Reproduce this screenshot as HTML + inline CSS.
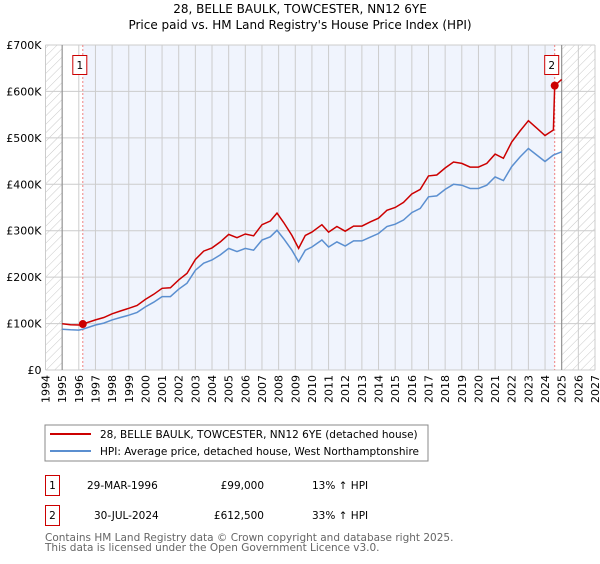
<!DOCTYPE html>
<html><head><meta charset="utf-8"><style>
body{margin:0;background:#fff;font-family:"DejaVu Sans","Liberation Sans",sans-serif;}
svg text{font-family:"DejaVu Sans","Liberation Sans",sans-serif;}
</style></head><body>
<svg id="c" width="600" height="560" viewBox="0 0 600 560">
<defs><pattern id="hatch" width="6" height="6" patternUnits="userSpaceOnUse" patternTransform="rotate(45)"><line x1="0" y1="0" x2="0" y2="6" stroke="#bbb" stroke-width="0.8"/></pattern></defs>
<text x="300" y="13" text-anchor="middle" font-size="12">28, BELLE BAULK, TOWCESTER, NN12 6YE</text>
<text x="300" y="29" text-anchor="middle" font-size="12">Price paid vs. HM Land Registry's House Price Index (HPI)</text>
<g id="plot"></g>
<rect x="45" y="425" width="383" height="36" fill="#fff" stroke="#888"/>
<line x1="50" y1="434" x2="91" y2="434" stroke="#cc0000" stroke-width="2"/>
<text x="100" y="438" font-size="10.5">28, BELLE BAULK, TOWCESTER, NN12 6YE (detached house)</text>
<line x1="50" y1="451" x2="91" y2="451" stroke="#5b8fd0" stroke-width="2"/>
<text x="100" y="455" font-size="10.5">HPI: Average price, detached house, West Northamptonshire</text>
<g font-size="10.5">
<rect x="45.5" y="475.5" width="14" height="20" fill="none" stroke="#cc0000"/>
<text x="52.5" y="489" text-anchor="middle">1</text>
<text x="87" y="489">29-MAR-1996</text>
<text x="264" y="489" text-anchor="end">£99,000</text>
<text x="312" y="489">13% ↑ HPI</text>
<rect x="45.5" y="505.5" width="14" height="20" fill="none" stroke="#cc0000"/>
<text x="52.5" y="519" text-anchor="middle">2</text>
<text x="94" y="519">30-JUL-2024</text>
<text x="264" y="519" text-anchor="end">£612,500</text>
<text x="312" y="519">33% ↑ HPI</text>
</g>
<text x="45" y="541" font-size="10.5" fill="#666">Contains HM Land Registry data © Crown copyright and database right 2025.</text>
<text x="45" y="551" font-size="10.5" fill="#666">This data is licensed under the Open Government Licence v3.0.</text>
</svg>
<script>
var yearTicks=[1994,1995,1996,1997,1998,1999,2000,2001,2002,2003,2004,2005,2006,2007,2008,2009,2010,2011,2012,2013,2014,2015,2016,2017,2018,2019,2020,2021,2022,2023,2024,2025,2026,2027];
var valueTicks=[0,100000,200000,300000,400000,500000,600000,700000];
var valueTickLabels=["£0","£100K","£200K","£300K","£400K","£500K","£600K","£700K"];
var hpiYears=[1995,1995.5,1996,1996.25,1997,1997.5,1998,1998.5,1999,1999.5,2000,2000.5,2001,2001.5,2002,2002.5,2003,2003.5,2004,2004.5,2005,2005.5,2006,2006.5,2007,2007.5,2007.9,2008.3,2008.8,2009.2,2009.6,2010,2010.6,2011,2011.5,2012,2012.5,2013,2013.5,2014,2014.5,2015,2015.5,2016,2016.5,2017,2017.5,2018,2018.5,2019,2019.5,2020,2020.5,2021,2021.5,2022,2022.5,2023,2023.5,2024,2024.5,2025];
var hpiValues=[87600,86500,86000,88000,97000,101000,108000,113000,118000,124000,136000,146000,158000,158000,174000,187000,215000,230000,237000,248000,262000,255000,262000,258000,280000,287000,301000,283000,258000,233000,258000,265000,280000,265000,276000,267000,278000,278000,286000,294000,309000,314000,323000,339000,348000,373000,375000,389000,400000,398000,391000,391000,398000,416000,408000,438000,459000,477000,463000,449000,463000,470000];
var priceYears=[1995,1995.5,1996,1996.25,1997,1997.5,1998,1998.5,1999,1999.5,2000,2000.5,2001,2001.5,2002,2002.5,2003,2003.5,2004,2004.5,2005,2005.5,2006,2006.5,2007,2007.5,2007.9,2008.3,2008.8,2009.2,2009.6,2010,2010.6,2011,2011.5,2012,2012.5,2013,2013.5,2014,2014.5,2015,2015.5,2016,2016.5,2017,2017.5,2018,2018.5,2019,2019.5,2020,2020.5,2021,2021.5,2022,2022.5,2023,2023.5,2024,2024.5,2024.58,2025];
var priceValues=[99500,97500,97000,99000,108000,113000,121000,127000,133000,139000,152000,163000,176000,177000,194000,208000,238000,256000,263000,276000,292000,285000,293000,289000,313000,321000,338000,318000,290000,262000,290000,297000,313000,297000,309000,299000,310000,310000,319000,327000,344000,350000,361000,379000,389000,418000,420000,435000,448000,445000,437000,437000,445000,465000,456000,491000,515000,537000,521000,505000,517000,612500,626000];
var saleYears=[1996.24,2024.58];
var saleValues=[99000,612500];
var saleLabels=["1","2"];

var NS="http://www.w3.org/2000/svg",g=document.getElementById("plot");
var X0=45.5,X1=595,Y0=370,Y1=45;
function sx(y){return X0+(y-1994)/(2027-1994)*(X1-X0);}
function sy(v){return Y0-v/700000*(Y0-Y1);}
function mk(t,a,p){var e=document.createElementNS(NS,t);for(var k in a)e.setAttribute(k,a[k]);(p||g).appendChild(e);return e;}
var e;
e=mk("rect",{x:X0,y:Y1,width:X1-X0,height:Y0-Y1,fill:"#fff"});


e=mk("rect",{x:sx(saleYears[0]),y:Y1,width:sx(saleYears[1])-sx(saleYears[0]),height:Y0-Y1,fill:"#f0f4fd"});


e=mk("rect",{x:X0,y:Y1,width:sx(1995)-X0,height:Y0-Y1,fill:"url(#hatch)"});


e=mk("rect",{x:sx(2025),y:Y1,width:X1-sx(2025),height:Y0-Y1,fill:"url(#hatch)"});


yearTicks.forEach(function(yr){
  var x=sx(yr);
  e=mk("line",{x1:x,x2:x,y1:Y1,y2:Y0,stroke:"#cccccc","stroke-width":1});
  
  
  e=mk("text",{x:0,y:0,"font-size":"11",transform:"translate("+(x+4)+","+(Y0+5)+") rotate(-90)","text-anchor":"end"});
  e.textContent=yr;
  
  
});
valueTicks.forEach(function(v,i){
  var y=sy(v);
  e=mk("line",{x1:X0,x2:X1,y1:y,y2:y,stroke:"#cccccc","stroke-width":1});
  
  
  e=mk("text",{x:X0-4,y:y+4,"font-size":"11","text-anchor":"end"});
  e.textContent=valueTickLabels[i];
  
  
});
e=mk("line",{x1:sx(1995),x2:sx(1995),y1:Y1,y2:Y0,stroke:"#888","stroke-width":1});


e=mk("line",{x1:sx(2025),x2:sx(2025),y1:Y1,y2:Y0,stroke:"#888","stroke-width":1});


saleYears.forEach(function(yr,i){
  e=mk("line",{x1:sx(yr),x2:sx(yr),y1:Y1,y2:Y0,stroke:"#f08080","stroke-width":1,"stroke-dasharray":"2,2"});
  
  
});
function path(xs,vs){return xs.map(function(y,i){return (i?"L":"M")+sx(y).toFixed(1)+","+sy(vs[i]).toFixed(1);}).join("");}
e=mk("path",{d:path(hpiYears,hpiValues),fill:"none",stroke:"#5b8fd0","stroke-width":1.5});


e=mk("path",{d:path(priceYears,priceValues),fill:"none",stroke:"#cc0000","stroke-width":1.5});


saleYears.forEach(function(yr,i){
  e=mk("circle",{cx:sx(yr),cy:sy(saleValues[i]),r:4,fill:"#cc0000"});
  
  
  var bc=sx(yr)-3;
  e=mk("rect",{x:bc-7,y:55.5,width:14,height:19,fill:"#fff",stroke:"#cc0000"});
  
  
  e=mk("text",{x:bc,y:69,"font-size":"10.5","text-anchor":"middle"});
  e.textContent=saleLabels[i];
  
  
});
</script>
</body></html>
